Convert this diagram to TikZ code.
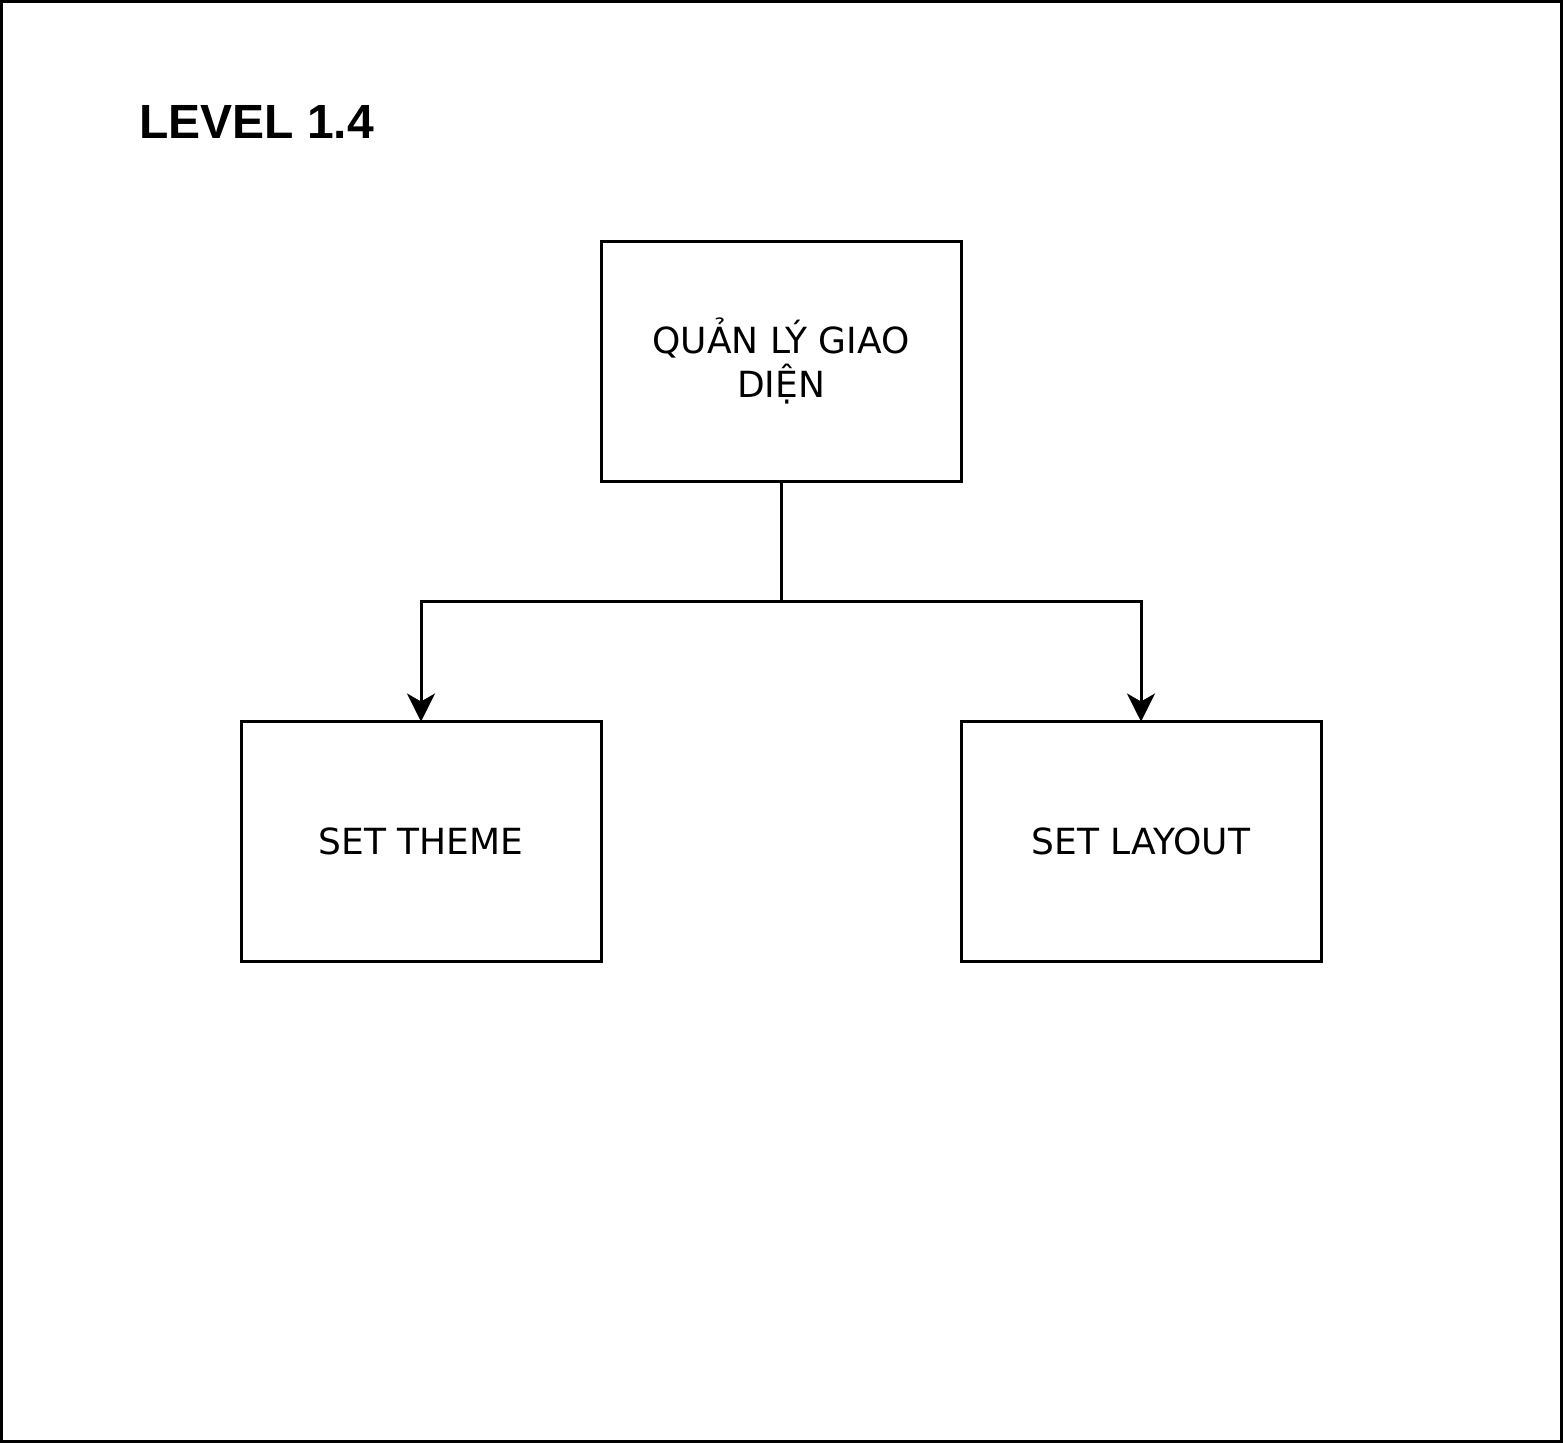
\documentclass[tikz,border=0pt]{standalone}
\usepackage{fontspec}
\setmainfont{DejaVu Sans}
\newfontfamily\titlefont{Liberation Sans}
\usetikzlibrary{arrows.meta}
\begin{document}
\begin{tikzpicture}[x=0.75pt,y=-0.75pt,
  boxnode/.style={draw,line width=2.25pt,minimum width=270pt,minimum height=180pt,inner sep=0pt,align=center,font=\fontsize{27pt}{32.4pt}\selectfont},
  conn/.style={line width=2.25pt,shorten >=-1.5pt,-{Stealth[length=21pt,width=21pt,inset=6pt]}}]
\useasboundingbox (0,0) rectangle (1563,1443);
\draw[line width=2.25pt] (1.5,1.5) rectangle (1561.5,1441.5);
\node[anchor=base west,inner sep=0pt,font=\titlefont\bfseries\fontsize{36pt}{43pt}\selectfont] (title) at (139,138) {LEVEL 1.4};
\node[boxnode] (top) at (781,361) {QUẢN LÝ GIAO\\DIỆN};
\node[boxnode] (left) at (421,841) {SET THEME};
\node[boxnode] (right) at (1141,841) {SET LAYOUT};
\coordinate (mid) at (781,601);
\draw[line width=2.25pt] (top.south) -- (mid);
\draw[conn] (mid) -| (left.north);
\draw[conn] (mid) -| (right.north);
\end{tikzpicture}
\end{document}
